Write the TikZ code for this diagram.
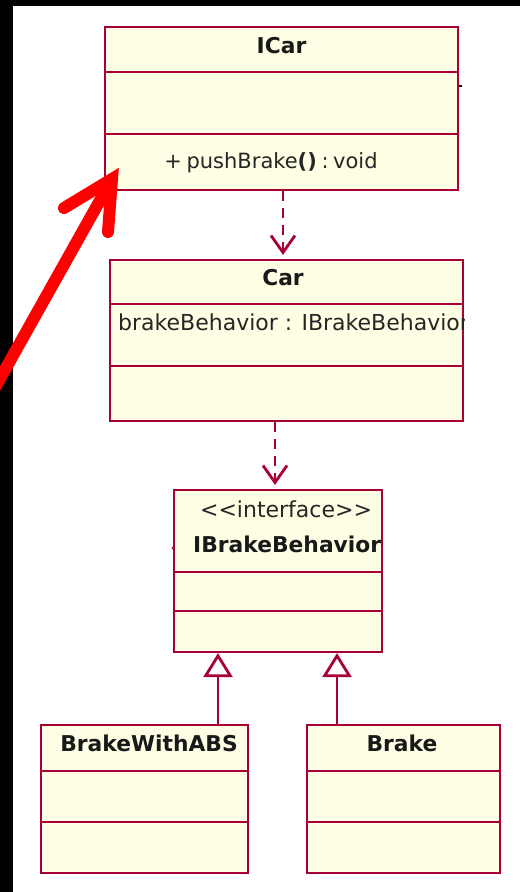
\documentclass[tikz,border=0pt]{standalone}
\usepackage{fontspec}
\setmainfont{DejaVu Sans}
\usetikzlibrary{arrows.meta}
\definecolor{umlborder}{HTML}{A80036}
\definecolor{umlfill}{HTML}{FEFEE4}
\definecolor{arrowred}{HTML}{FF0000}
\tikzset{
  x=1pt, y=-1pt,
  umlbox/.style={draw=umlborder, fill=umlfill, line width=2.2pt, rectangle, inner sep=0pt},
  divider/.style={draw=umlborder, line width=2.8pt},
  titletext/.style={inner sep=0pt, font=\fontsize{21.8pt}{25pt}\selectfont\bfseries, text=black!90},
  bodytext/.style={inner sep=0pt, font=\fontsize{22pt}{25pt}\selectfont, text=black!85},
  dep/.style={draw=umlborder, line width=2.8pt, dash pattern=on 10pt off 7pt, -{Straight Barb[length=17pt,width=24pt,line width=2.8pt]}},
  gen/.style={draw=umlborder, line width=2.8pt, -{Triangle[open,length=24pt,width=29pt,line width=2.8pt,fill=white]}},
  redline/.style={draw=arrowred, line width=12pt, line cap=round}
}
\begin{document}
\begin{tikzpicture}
\useasboundingbox (0,0) rectangle (520,892);
\fill[white] (0,0) rectangle (520,892);
\fill[black] (0,0) rectangle (520,6);
\fill[black] (0,0) rectangle (13,892);

% ICar
\node[umlbox, minimum width=353pt, minimum height=163pt] (icar) at (281.5,108.5) {};
\draw[divider] (icar.west |- 0,72) -- (icar.east |- 0,72);
\draw[divider] (icar.west |- 0,134) -- (icar.east |- 0,134);
\node[titletext, anchor=base] (icart) at (281.5,53) {ICar};
\node[bodytext, font=\fontsize{21pt}{25pt}\selectfont, anchor=base] (icarm) at (271,168) {+\hspace{0.22em}pushBrake\textbf{()}\hspace{0.22em}:\hspace{0.22em}void};
\draw[black, line width=1.5pt] (459,86) -- (462,86);

% Car
\node[umlbox, minimum width=353pt, minimum height=161pt] (car) at (286.5,340.5) {};
\draw[divider] (car.west |- 0,304) -- (car.east |- 0,304);
\draw[divider] (car.west |- 0,366) -- (car.east |- 0,366);
\node[titletext, anchor=base] (cart) at (283,285) {Car};
\begin{scope}
\clip (car.north west) rectangle (car.south east);
\node[bodytext, anchor=base west] (cara) at (118,330) {brakeBehavior : IBrakeBehavior};
\end{scope}

% IBrakeBehavior
\node[umlbox, minimum width=208pt, minimum height=162pt] (ibb) at (278,571) {};
\draw[divider] (ibb.west |- 0,572) -- (ibb.east |- 0,572);
\draw[divider] (ibb.west |- 0,611) -- (ibb.east |- 0,611);
\node[bodytext, anchor=base] (ibbs) at (286,517) {<{}<interface>{}>};
\begin{scope}
\clip (ibb.north west) rectangle (ibb.south east);
\node[titletext, anchor=base west] (ibbt) at (193,552) {IBrakeBehavior};
\end{scope}
\fill[umlborder] (173,548) circle (1.5pt);

% BrakeWithABS
\node[umlbox, minimum width=207pt, minimum height=148pt] (bwa) at (144.5,799) {};
\draw[divider] (bwa.west |- 0,771) -- (bwa.east |- 0,771);
\draw[divider] (bwa.west |- 0,822) -- (bwa.east |- 0,822);
\node[titletext, anchor=base] (bwat) at (149,751) {BrakeWithABS};

% Brake
\node[umlbox, minimum width=193pt, minimum height=148pt] (brk) at (403.5,799) {};
\draw[divider] (brk.west |- 0,771) -- (brk.east |- 0,771);
\draw[divider] (brk.west |- 0,822) -- (brk.east |- 0,822);
\node[titletext, anchor=base] (brkt) at (402,751) {Brake};

% connectors
\draw[dep, shorten >=4pt] (icar.south -| 283,0) -- (car.north -| 283,0);
\draw[dep, shorten >=4pt] (car.south -| 275,0) -- (ibb.north -| 275,0);
\draw[gen] (bwa.north -| 218,0) -- (ibb.south -| 218,0);
\draw[gen] (brk.north -| 337,0) -- (ibb.south -| 337,0);

% red annotation arrow
\coordinate (rtip) at (112,179);
\coordinate (rtail) at (-12,400);
\coordinate (rleft) at (64,208);
\coordinate (rdown) at (108,232);
\draw[redline] (rtail) -- (rtip);
\draw[redline, line join=miter] (rleft) -- (rtip) -- (rdown);
\end{tikzpicture}
\end{document}
